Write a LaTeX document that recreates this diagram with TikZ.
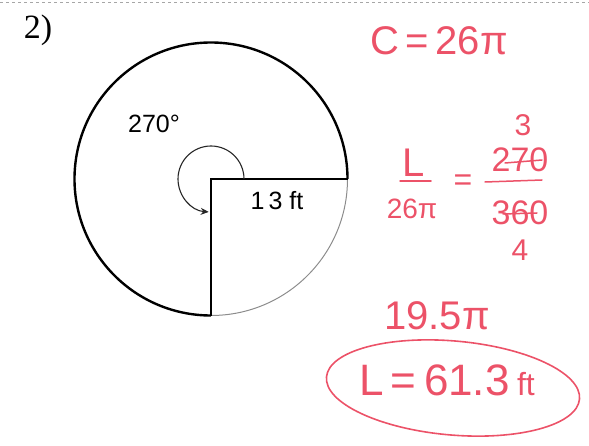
\documentclass[tikz,border=0pt]{standalone}
\usepackage{fontspec}
\setmainfont{Liberation Serif}
\newfontfamily\labelfont{Liberation Sans}
\newfontfamily\hand{Liberation Sans}
\usetikzlibrary{arrows.meta}
\definecolor{ink}{RGB}{236,82,104}
\tikzset{
  thickline/.style={line width=2.4pt, black},
  thinarc/.style={line width=1pt, black!45},
  lbl/.style={font=\labelfont\fontsize{25}{27}\selectfont, inner sep=0pt},
  handtxt/.style={text=ink, inner sep=0pt},
  inkline/.style={draw=ink, line width=1.5pt, line cap=round},
}
\begin{document}
\begin{tikzpicture}[x=1pt,y=1pt]
\useasboundingbox (0,0) rectangle (589,445);
% scan edge
\draw[black!35, line width=0.8pt, dashed] (0,443) -- (589,443);
% problem number
\node[inner sep=0pt, font=\fontsize{34}{36}\selectfont] (num) at (38,415) {2)};
% circle
\coordinate (O) at (211,266);
\coordinate (R) at (347.5,266);
\coordinate (B) at (211,129.5);
\draw[thinarc] (B) arc[start angle=270, end angle=360, radius=136.5pt];
\draw[thickline] (R) arc[start angle=0, end angle=270, radius=136.5pt];
\draw[line width=2pt] (R) -- (O) -- (B);
% angle marker
\coordinate (A0) at (244,266);
\draw[line width=1.1pt, black!85, -{Stealth[length=8pt,width=7pt]}] (A0) arc[start angle=0, end angle=266, radius=33pt];
\node[lbl] (ang) at (154,321) {270°};
\node[lbl] (rad) at (277,244) {1\,3 ft};
% handwritten work
\node[handtxt, font=\hand\fontsize{40}{42}\selectfont] (circ) at (439,404) {C\,=\,26π};
\node[handtxt, font=\hand\fontsize{40}{42}\selectfont] (L) at (414,282) {L};
\draw[inkline] (400,264) -- (431,264);
\node[handtxt, font=\hand\fontsize{28}{30}\selectfont] (den) at (412,236) {26π};
\node[handtxt, font=\hand\fontsize{32}{34}\selectfont] (eq) at (463,262) {=};
\node[handtxt, font=\hand\fontsize{30}{32}\selectfont] (three) at (523,320) {3};
\node[handtxt, font=\hand\fontsize{34}{36}\selectfont] (num270) at (520,285) {270};
\draw[inkline] (505,282) -- (542,285);
\draw[inkline] (485,263) -- (542,265);
\node[handtxt, font=\hand\fontsize{34}{36}\selectfont] (num360) at (520,232) {360};
\draw[inkline] (503,231) -- (537,232);
\node[handtxt, font=\hand\fontsize{30}{32}\selectfont] (four) at (520,195) {4};
\node[handtxt, font=\hand\fontsize{40}{42}\selectfont] (mid) at (437,129) {19.5π};
\node[handtxt, font=\hand\fontsize{44}{46}\selectfont] (ans) at (447,65) {L\,=\,61.3\,{\fontsize{32}{34}\selectfont ft}};
\draw[draw=ink, line width=1.6pt, rotate around={-5:(453,57)}] (453,57) ellipse[x radius=127pt, y radius=47pt];
\end{tikzpicture}
\end{document}
